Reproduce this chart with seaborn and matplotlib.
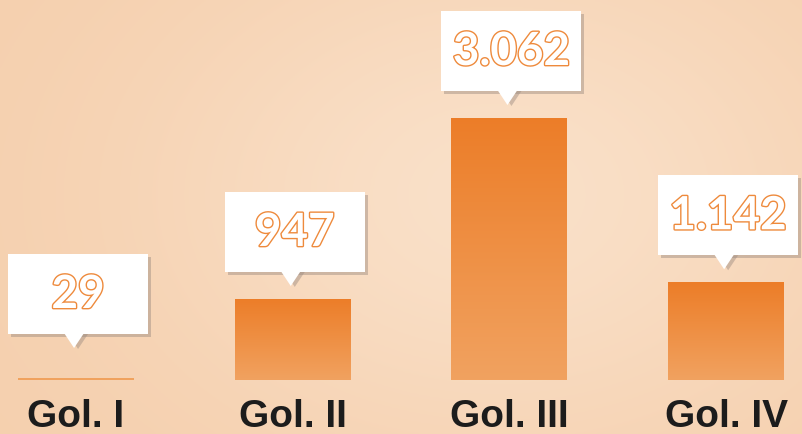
import numpy as np
import pandas as pd
import matplotlib
matplotlib.use("Agg")
import matplotlib.pyplot as plt
import matplotlib.patheffects as pe
import matplotlib.transforms as mtransforms
from matplotlib.patches import Rectangle, Polygon
import seaborn as sns

categories = ["Gol. I", "Gol. II", "Gol. III", "Gol. IV"]
values = [29, 947, 3062, 1142]
value_labels = ["29", "947", "3.062", "1.142"]

BG = "#f8d9bd"
sns.set_theme(style="white")
plt.rcParams["font.family"] = ["Liberation Sans", "DejaVu Sans"]

W, H = 802, 434
fig = plt.figure(figsize=(W / 100, H / 100), dpi=100)
fig.patch.set_facecolor(BG)

# soft background gradient
bg_ax = fig.add_axes([0, 0, 1, 1], zorder=-10)
yy, xx = np.mgrid[0:1:200j, 0:1:400j]
glow = np.exp(-(((xx - 0.62) / 0.45) ** 2 + ((yy - 0.45) / 0.6) ** 2))
c_edge = np.array(matplotlib.colors.to_rgb("#f5cfad"))
c_mid = np.array(matplotlib.colors.to_rgb("#fae0c8"))
img = c_edge[None, None, :] * (1 - glow[..., None]) + c_mid[None, None, :] * glow[..., None]
bg_ax.imshow(img, aspect="auto", extent=[0, 1, 0, 1])
bg_ax.axis("off")

base_px = 54
ax = fig.add_axes([0, base_px / H, 1, (H - base_px) / H])
ax.patch.set_alpha(0)

df = pd.DataFrame({"cat": categories, "val": values})
sns.barplot(data=df, x="cat", y="val", ax=ax, width=0.535, color="#ec8231",
            saturation=1, edgecolor="none")

ax.set_xlim(-0.351, 3.350)
ax.set_ylim(0, 4441)
ax.set_xlabel("")
ax.set_ylabel("")
ax.set_yticks([])
for s in ax.spines.values():
    s.set_visible(False)
ax.tick_params(axis="x", length=0, pad=14)
ax.set_xticks(range(len(categories)))
ax.set_xticklabels(categories, fontsize=28, fontweight="bold", color="#1c1c1c")

# gradient fill for bars
grad = np.linspace(0, 1, 256)[:, None]
cmap = matplotlib.colors.LinearSegmentedColormap.from_list("g", ["#ec7d28", "#f1a260"])
for p in ax.patches:
    x0, y0 = p.get_x(), p.get_y()
    w, h = p.get_width(), p.get_height()
    if h < 200:
        p.set_facecolor("#f0a25e")
        continue
    im = ax.imshow(grad, cmap=cmap, aspect="auto", extent=[x0, x0 + w, y0, y0 + h],
                   zorder=p.get_zorder() + 0.1)
    im.set_clip_path(p)

# callout boxes
fig.canvas.draw()
ident = mtransforms.IdentityTransform()
bw, bh = 140, 80
for i, (v, lab) in enumerate(zip(values, value_labels)):
    cx, top = ax.transData.transform((i, v))
    _, base = ax.transData.transform((i, 0))
    cx += 2
    bottom = max(top + 27, base + 46)
    # shadow
    ax.add_patch(Rectangle((cx - bw / 2 + 3, bottom - 3), bw, bh, transform=ident,
                           facecolor="#9a8a80", alpha=0.45, edgecolor="none",
                           zorder=5, clip_on=False))
    ax.add_patch(Polygon([(cx - 12 + 2, bottom), (cx + 8 + 2, bottom), (cx - 2 + 2, bottom - 15)],
                         closed=True, transform=ident, facecolor="#9a8a80", alpha=0.45,
                         edgecolor="none", zorder=5, clip_on=False))
    ax.add_patch(Rectangle((cx - bw / 2, bottom), bw, bh, transform=ident,
                           facecolor="white", edgecolor="none", zorder=6, clip_on=False))
    ax.add_patch(Polygon([(cx - 14, bottom + 1), (cx + 6, bottom + 1), (cx - 4, bottom - 14)],
                         closed=True, transform=ident, facecolor="white",
                         edgecolor="none", zorder=6, clip_on=False))
    t = ax.text(cx, bottom + bh / 2 - 1, lab, transform=ident, ha="center", va="center",
                fontsize=33, fontweight="bold", family=["Lato", "DejaVu Sans"],
                color="white", zorder=7)
    t.set_path_effects([pe.Stroke(linewidth=2.0, foreground="#ee8a3c"), pe.Normal()])

fig.savefig("out.png", dpi=100, facecolor=BG)
